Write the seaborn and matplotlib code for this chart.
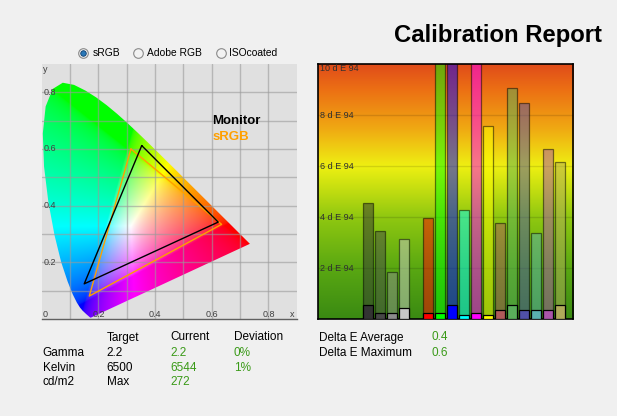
import numpy as np
import matplotlib
matplotlib.use("Agg")
import matplotlib.pyplot as plt
from matplotlib.colors import LinearSegmentedColormap
from matplotlib.patches import Polygon
import seaborn as sns

# CIE 1931 spectral locus, 380..700 nm
locus_x = [0.1741, 0.1738, 0.1733, 0.1726, 0.1714, 0.1689, 0.1644, 0.1566, 0.1440, 0.1355,
           0.1241, 0.1096, 0.0913, 0.0687, 0.0454, 0.0235, 0.0082, 0.0039, 0.0139, 0.0389,
           0.0743, 0.1142, 0.1547, 0.1929, 0.2296, 0.2658, 0.3016, 0.3373, 0.3731, 0.4087,
           0.4441, 0.4788, 0.5125, 0.5448, 0.5752, 0.6029, 0.6270, 0.6482, 0.6658, 0.6915,
           0.7079, 0.7190, 0.7260, 0.7300, 0.7334, 0.7347]
locus_y = [0.0050, 0.0049, 0.0048, 0.0048, 0.0051, 0.0069, 0.0109, 0.0177, 0.0297, 0.0399,
           0.0578, 0.0868, 0.1327, 0.2007, 0.2950, 0.4127, 0.5384, 0.6548, 0.7502, 0.8120,
           0.8338, 0.8262, 0.8059, 0.7816, 0.7543, 0.7243, 0.6923, 0.6589, 0.6245, 0.5896,
           0.5547, 0.5202, 0.4866, 0.4544, 0.4242, 0.3965, 0.3725, 0.3514, 0.3340, 0.3083,
           0.2920, 0.2809, 0.2740, 0.2700, 0.2666, 0.2653]

# gamut triangles (G, R, B) as drawn
monitor_x = [0.353, 0.623, 0.150]
monitor_y = [0.612, 0.342, 0.124]
srgb_x = [0.315, 0.635, 0.168]
srgb_y = [0.600, 0.334, 0.081]

# delta E per patch
patch_names = ["Black", "Gray 30", "Gray 55", "Gray 80", "Red", "Green", "Blue", "Cyan",
               "Magenta", "Yellow", "Dark Red", "Dark Green", "Dark Blue", "Dark Cyan",
               "Dark Magenta", "Dark Yellow"]
patch_colors = ["#333333", "#474747", "#8c8c8c", "#c8c8c8", "#ff0000", "#00ff00", "#0000ff",
                "#00ffff", "#ff00ff", "#ffff00", "#b05a5a", "#5aae5a", "#5050a8", "#5ab0b0",
                "#aa55aa", "#b0aa5a"]
de_before = [4.55, 3.46, 1.85, 3.14, 3.97, 11.0, 11.0, 4.28, 11.0, 7.58, 3.77, 9.07, 8.48,
             3.38, 6.68, 6.16]
de_after = [0.55, 0.24, 0.24, 0.43, 0.24, 0.24, 0.55, 0.16, 0.24, 0.16, 0.35, 0.55, 0.35,
            0.35, 0.35, 0.55]

grad_levels = [0, 2, 4, 5, 6, 7.5, 9, 10]
grad_colors = ["#3a8a12", "#5aa812", "#90c810", "#c0dc10", "#eef012", "#f0a812", "#ec7014",
               "#e04c1a"]

sns.set_theme(style="white")
plt.rcParams["font.family"] = ["Liberation Sans", "DejaVu Sans"]

fig = plt.figure(figsize=(6.17, 4.16), dpi=100, facecolor="#f0f0f0")

# ---- chromaticity diagram ----
ax1 = fig.add_axes([0.0676, 0.2332, 0.4133, 0.6130])
ax1.set_facecolor("#e0e0e0")

n = 500
gx, gy = np.meshgrid(np.linspace(0, 0.9, n), np.linspace(0.001, 0.9, n))
XYZ = np.stack([gx / gy, np.ones_like(gx), (1 - gx - gy) / gy])
M = np.array([[3.2406, -1.5372, -0.4986],
              [-0.9689, 1.8758, 0.0415],
              [0.0557, -0.2040, 1.0570]])
rgb = np.clip(np.einsum("ij,jkl->kli", M, XYZ), 0, None)
rgb = rgb / (rgb.max(axis=2, keepdims=True) + 1e-9)
rgb = np.clip(rgb, 0, 1) ** (1 / 2.2)

poly = Polygon(np.column_stack([locus_x, locus_y]), closed=True, facecolor="none",
               edgecolor="none")
ax1.add_patch(poly)
im = ax1.imshow(rgb, extent=(0, 0.9, 0.001, 0.9), origin="lower", interpolation="bilinear",
                zorder=1)
im.set_clip_path(poly)

for v in np.arange(0.1, 0.9, 0.1):
    ax1.axvline(v, color="#9a9a9a", lw=1, alpha=0.6, zorder=2)
    ax1.axhline(v, color="#9a9a9a", lw=1, alpha=0.6, zorder=2)

sns.lineplot(x=srgb_x + srgb_x[:1], y=srgb_y + srgb_y[:1], sort=False, estimator=None,
             color="#ffa000", lw=1, ax=ax1, zorder=3)
sns.lineplot(x=monitor_x + monitor_x[:1], y=monitor_y + monitor_y[:1], sort=False,
             estimator=None, color="black", lw=1, ax=ax1, zorder=4)

ax1.set_xlim(0, 0.9)
ax1.set_ylim(0, 0.9)
ax1.set_xticks([])
ax1.set_yticks([])
for s in ["top", "left", "right"]:
    ax1.spines[s].set_visible(False)
ax1.spines["bottom"].set_color("#606060")
ax1.spines["bottom"].set_linewidth(1)
ax1.set_xlabel("")
ax1.set_ylabel("")

tk = dict(fontsize=6.5, color="#404040", zorder=5)
for v in [0.2, 0.4, 0.6, 0.8]:
    ax1.text(v, 0.015, f"{v:.1f}", ha="center", va="center", **tk)
    ax1.text(0.008, v, f"{v:.1f}", ha="left", va="center", **tk)
ax1.text(0.012, 0.015, "0", ha="center", va="center", **tk)
ax1.text(0.884, 0.015, "x", ha="center", va="center", **tk)
ax1.text(0.014, 0.88, "y", ha="center", va="center", **tk)
ax1.text(0.602, 0.697, "Monitor", fontsize=9.5, fontweight="bold", color="black",
         ha="left", va="center", zorder=5)
ax1.text(0.602, 0.643, "sRGB", fontsize=9.5, fontweight="bold", color="#ffa000",
         ha="left", va="center", zorder=5)

# ---- delta E bars ----
ax2 = fig.add_axes([0.5159, 0.2325, 0.4133, 0.6125])
order = patch_names[:4] + [" "] + patch_names[4:]
pal = dict(zip(patch_names, patch_colors))

cmap = LinearSegmentedColormap.from_list(
    "de", list(zip(np.array(grad_levels) / 10, grad_colors)))
xl = (-4.14, 17.11)
ax2.imshow(np.linspace(0, 1, 256).reshape(-1, 1), extent=(xl[0], xl[1], 0, 10),
           origin="lower", aspect="auto", cmap=cmap, zorder=0)
for v in [2, 4, 6, 8]:
    ax2.axhline(v, color="black", lw=1, alpha=0.12, zorder=0.5)

sns.barplot(x=patch_names, y=de_before, hue=patch_names, palette=pal, order=order,
            hue_order=patch_names, legend=False, width=0.78, saturation=1,
            errorbar=None, alpha=0.5, edgecolor="black", linewidth=0.9, ax=ax2, zorder=2)
sns.barplot(x=patch_names, y=de_after, hue=patch_names, palette=pal, order=order,
            hue_order=patch_names, legend=False, width=0.78, saturation=1,
            errorbar=None, edgecolor="black", linewidth=0.9, ax=ax2, zorder=3)

for v in [2, 4, 6, 8]:
    ax2.text(xl[0] + 0.15, v, f"{v} d E 94", fontsize=6.5, color="#303030", ha="left",
             va="center", zorder=4)
ax2.text(xl[0] + 0.15, 9.83, "10 d E 94", fontsize=6.5, color="#303030", ha="left",
         va="center", zorder=4)

ax2.set_xlim(*xl)
ax2.set_ylim(0, 10)
ax2.set_xticks([])
ax2.set_yticks([])
ax2.set_xlabel("")
ax2.set_ylabel("")
for s in ax2.spines.values():
    s.set_color("black")
    s.set_linewidth(1.2)
    s.set_visible(True)

# ---- overlay: title, radio buttons, report table ----
ov = fig.add_axes([0, 0, 1, 1], facecolor="none")
ov.set_xlim(0, 617)
ov.set_ylim(416, 0)
ov.axis("off")

ov.text(601.7, 42.3, "Calibration Report", fontsize=17.2, fontweight="bold",
        color="black", ha="right", va="baseline")

radio_x = [83.3, 138.3, 221.0]
radio_labels = ["sRGB", "Adobe RGB", "ISOcoated"]
ov.scatter(radio_x, [53.3] * 3, s=48, facecolor="#f2f2f2", edgecolor="#8a8a8a", lw=0.8)
ov.scatter(radio_x[:1], [53.3], s=16, facecolor="#2a78b8", edgecolor="#0c3c6c", lw=0.6)
for x, lab in zip([92.7, 147.3, 229.3], radio_labels):
    ov.text(x, 53.5, lab, fontsize=7.4, color="black", ha="left", va="center")

green = "#3a9a18"
t = dict(fontsize=8.5, ha="left", va="center")
ov.text(106.7, 337.5, "Target", color="black", **t)
ov.text(170, 337.5, "Current", color="black", **t)
ov.text(234, 337.5, "Deviation", color="black", **t)
rows = [("Gamma", "2.2", "2.2", "0%"), ("Kelvin", "6500", "6544", "1%"),
        ("cd/m2", "Max", "272", "")]
for yy, (lab, tgt, cur, dev) in zip([353.3, 367.8, 382.3], rows):
    ov.text(42.7, yy, lab, color="black", **t)
    ov.text(106.7, yy, tgt, color="black", **t)
    ov.text(170, yy, cur, color=green, **t)
    ov.text(234, yy, dev, color=green, **t)
ov.text(318.7, 337.5, "Delta E Average", color="black", **t)
ov.text(431, 337.5, "0.4", color=green, **t)
ov.text(318.7, 353.3, "Delta E Maximum", color="black", **t)
ov.text(431, 353.3, "0.6", color=green, **t)

fig.savefig("out.png", dpi=100, facecolor=fig.get_facecolor())
